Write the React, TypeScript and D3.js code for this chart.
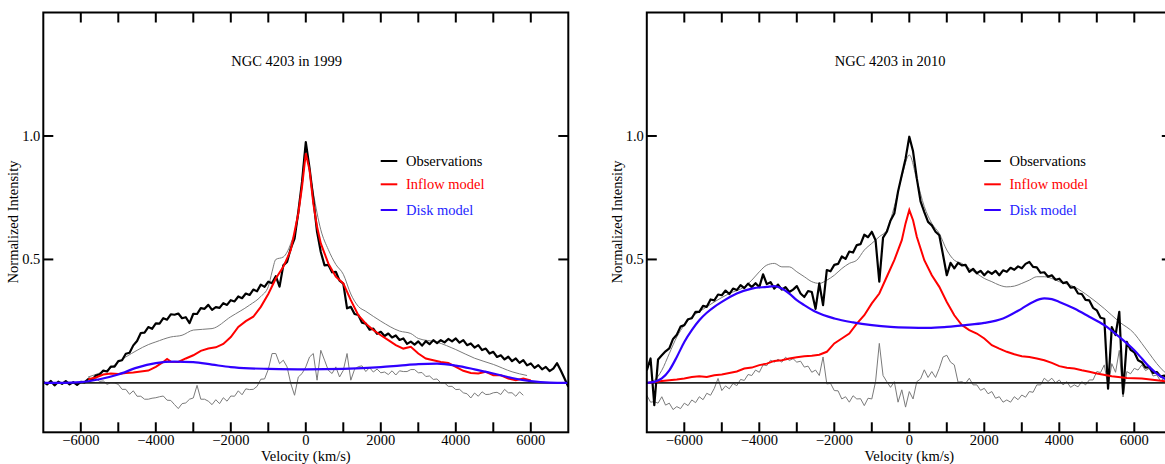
import React from 'react';
import * as d3 from 'd3';

// velocity grid step for the sampled (noisy) spectra, km/s
const STEP = 100;

const titles = ['NGC 4203 in 1999', 'NGC 4203 in 2010'];
const legendLabels = ['Observations', 'Inflow model', 'Disk model'];
const xTickValues = [-6000, -4000, -2000, 0, 2000, 4000, 6000];
const yTickValues = [0.5, 1.0];

// ---- 1999 ----
const obs1999Start = -7000;
const obs1999 = [
	0.004, -0.006, 0.008, -0.01, 0.005, -0.004, 0.007, -0.006, 0.003, -0.008,
	0.004, 0.002, 0.016, 0.012, 0.03, 0.034, 0.05, 0.046, 0.066, 0.066,
	0.088, 0.092, 0.118, 0.122, 0.152, 0.17, 0.202, 0.204, 0.226, 0.219,
	0.241, 0.24, 0.262, 0.256, 0.278, 0.276, 0.281, 0.262, 0.266, 0.242,
	0.28, 0.279, 0.303, 0.3, 0.316, 0.296, 0.307, 0.304, 0.323, 0.316,
	0.335, 0.33, 0.35, 0.343, 0.362, 0.356, 0.378, 0.371, 0.398, 0.389,
	0.41, 0.404, 0.432, 0.39, 0.476, 0.49, 0.545, 0.584, 0.692, 0.815,
	0.975, 0.87, 0.746, 0.612, 0.53, 0.476, 0.478, 0.448, 0.45, 0.414,
	0.402, 0.302, 0.308, 0.279, 0.275, 0.244, 0.24, 0.216, 0.22, 0.199,
	0.207, 0.19, 0.2, 0.184, 0.192, 0.174, 0.18, 0.158, 0.167, 0.155,
	0.168, 0.151, 0.169, 0.157, 0.173, 0.161, 0.173, 0.164, 0.178, 0.168,
	0.18, 0.163, 0.173, 0.153, 0.16, 0.143, 0.153, 0.133, 0.139, 0.119,
	0.126, 0.105, 0.112, 0.095, 0.106, 0.088, 0.099, 0.081, 0.092, 0.071,
	0.079, 0.061, 0.072, 0.055, 0.065, 0.048, 0.058, 0.08, 0.05, 0.018,
	-0.016
];

const resid1999Start = -5800;
const resid1999 = [
	0.024, 0.014, 0.018, 0.006, 0.008, -0.006, 0.001, 0.0, -0.006, -0.026,
	-0.026, -0.046, -0.032, -0.054, -0.054, -0.066, -0.066, -0.062, -0.06, -0.056,
	-0.053, -0.07, -0.071, -0.088, -0.104, -0.084, -0.081, -0.066, -0.061, -0.01,
	-0.066, -0.066, -0.074, -0.088, -0.068, -0.084, -0.06, -0.074, -0.053, -0.054,
	-0.032, -0.048, -0.024, -0.027, -0.026, -0.014, 0.015, 0.016, 0.055, 0.119,
	0.119, 0.078, 0.092, 0.065, -0.003, -0.05, 0.024, 0.038, 0.065, 0.105,
	0.119, 0.011, 0.132, 0.092, 0.051, 0.038, 0.065, 0.024, 0.051, 0.119,
	0.011, 0.055, 0.066, 0.069, 0.046, 0.062, 0.044, 0.056, 0.041, 0.044,
	0.034, 0.049, 0.032, 0.049, 0.046, 0.046, 0.054, 0.054, 0.041, 0.042,
	0.026, 0.028, 0.014, 0.016, 0.0, 0.0, -0.014, -0.014, -0.027, -0.026,
	-0.04, -0.044, -0.061, -0.041, -0.054, -0.036, -0.047, -0.046, -0.04, -0.038,
	-0.047, -0.026, -0.04, -0.04, -0.054, -0.036, -0.05
];

const inflow1999 = [
	[-5800, 0.015], [-5600, 0.022], [-5400, 0.034], [-5200, 0.038], [-5000, 0.036],
	[-4800, 0.04], [-4600, 0.042], [-4400, 0.046], [-4200, 0.05], [-4000, 0.065],
	[-3800, 0.085], [-3700, 0.097], [-3600, 0.086], [-3400, 0.085], [-3200, 0.099],
	[-3000, 0.112], [-2800, 0.13], [-2600, 0.139], [-2400, 0.144], [-2200, 0.158],
	[-2000, 0.186], [-1800, 0.227], [-1600, 0.25], [-1400, 0.268], [-1200, 0.308],
	[-1000, 0.36], [-800, 0.423], [-600, 0.47], [-400, 0.538], [-200, 0.686],
	[-100, 0.795], [0, 0.93], [100, 0.862], [200, 0.727], [300, 0.632],
	[400, 0.565], [600, 0.484], [800, 0.43], [1000, 0.403], [1200, 0.335],
	[1400, 0.274], [1600, 0.24], [1800, 0.214], [2000, 0.193], [2200, 0.173],
	[2400, 0.153], [2600, 0.139], [2800, 0.146], [3000, 0.119], [3200, 0.099],
	[3400, 0.092], [3600, 0.085], [3800, 0.081], [4000, 0.065], [4200, 0.049],
	[4400, 0.04], [4600, 0.038], [4800, 0.045], [5000, 0.031], [5200, 0.031],
	[5400, 0.018], [5600, 0.011], [5800, 0.018], [6000, 0.01]
];

const disk1999 = [
	[-7000, 0], [-6500, 0], [-6000, 0.003], [-5500, 0.015], [-5000, 0.034],
	[-4500, 0.062], [-4000, 0.08], [-3500, 0.086], [-3000, 0.084], [-2500, 0.074],
	[-2000, 0.064], [-1500, 0.059], [-1000, 0.057], [0, 0.055], [1000, 0.057],
	[2000, 0.064], [2500, 0.07], [3000, 0.076], [3500, 0.078], [4000, 0.07],
	[4500, 0.055], [5000, 0.038], [5500, 0.02], [6000, 0.007], [6500, 0.001], [7000, 0]
];

const model1999 = [
	[-5800, 0.024], [-5500, 0.04], [-5200, 0.06], [-5000, 0.085], [-4800, 0.105],
	[-4500, 0.132], [-4200, 0.155], [-4000, 0.166], [-3600, 0.186], [-3300, 0.193],
	[-3000, 0.214], [-2500, 0.22], [-2000, 0.268], [-1500, 0.315], [-1200, 0.35],
	[-1000, 0.39], [-900, 0.45], [-800, 0.5], [-600, 0.51], [-400, 0.565],
	[-200, 0.68], [-100, 0.82], [0, 0.957], [100, 0.86], [200, 0.77],
	[400, 0.62], [600, 0.54], [800, 0.48], [1000, 0.44], [1200, 0.36],
	[1400, 0.31], [1600, 0.29], [2000, 0.25], [2500, 0.21], [2800, 0.2],
	[3000, 0.18], [3500, 0.165], [4000, 0.135], [4500, 0.1], [5000, 0.075],
	[5500, 0.045], [5900, 0.03]
];

// ---- 2010 ----
const obs2010Start = -7000;
const obs2010 = [
	0.051, 0.099, -0.09, 0.095, 0.112, 0.128, 0.14, 0.178, 0.195, 0.228,
	0.234, 0.258, 0.262, 0.288, 0.288, 0.312, 0.308, 0.338, 0.334, 0.358,
	0.355, 0.374, 0.36, 0.382, 0.376, 0.396, 0.384, 0.402, 0.388, 0.404,
	0.388, 0.44, 0.4, 0.408, 0.382, 0.398, 0.378, 0.388, 0.368, 0.378,
	0.392, 0.362, 0.348, 0.372, 0.368, 0.3, 0.403, 0.315, 0.457, 0.452,
	0.478, 0.482, 0.512, 0.502, 0.532, 0.528, 0.558, 0.562, 0.6, 0.59,
	0.612, 0.578, 0.41, 0.588, 0.612, 0.658, 0.686, 0.775, 0.842, 0.908,
	0.997, 0.938, 0.828, 0.735, 0.692, 0.652, 0.638, 0.612, 0.598, 0.518,
	0.436, 0.486, 0.464, 0.486, 0.476, 0.478, 0.45, 0.462, 0.444, 0.454,
	0.436, 0.452, 0.442, 0.454, 0.436, 0.456, 0.45, 0.466, 0.458, 0.472,
	0.464, 0.482, 0.49, 0.47, 0.468, 0.446, 0.448, 0.43, 0.436, 0.418,
	0.422, 0.404, 0.408, 0.386, 0.388, 0.362, 0.36, 0.336, 0.334, 0.304,
	0.294, 0.264, 0.26, -0.023, 0.226, 0.194, 0.288, -0.043, 0.166, 0.134,
	0.124, 0.092, 0.084, 0.062, 0.064, 0.04, 0.044, 0.026, 0.03, 0.012,
	0.01
];

const resid2010Start = -7000;
const resid2010 = [
	-0.05, -0.078, -0.076, -0.082, -0.056, -0.09, -0.082, -0.108, -0.096, -0.104,
	-0.082, -0.092, -0.069, -0.08, -0.056, -0.068, -0.042, -0.05, -0.022, 0.018,
	-0.031, -0.012, -0.024, -0.002, -0.011, 0.014, 0.01, 0.034, 0.03, 0.052,
	0.043, 0.073, 0.07, 0.092, 0.084, 0.096, 0.084, 0.104, 0.091, 0.098,
	0.084, 0.088, 0.064, 0.068, 0.043, 0.052, 0.03, 0.105, -0.004, -0.002,
	-0.031, -0.032, -0.065, -0.056, -0.078, -0.052, -0.065, -0.064, -0.092, -0.062,
	-0.065, 0.005, 0.16, 0.03, 0.005, -0.018, 0.005, -0.078, -0.028, -0.098,
	-0.035, -0.065, 0.005, 0.016, 0.053, 0.022, 0.046, 0.022, 0.059, 0.105,
	0.112, 0.084, 0.073, 0.003, 0.005, -0.002, 0.019, -0.008, -0.008, -0.03,
	-0.022, -0.044, -0.035, -0.062, -0.056, -0.078, -0.069, -0.078, -0.056, -0.068,
	-0.049, -0.058, -0.035, -0.038, -0.008, -0.008, 0.019, 0.006, 0.019, 0.0,
	0.012, -0.008, 0.005, -0.018, -0.008, -0.016, 0.005, -0.008, 0.012, 0.012,
	0.046, 0.042, 0.073, -0.016, 0.078, 0.043, 0.132, -0.057, 0.046, 0.037,
	0.059, 0.052, 0.073, 0.05, 0.059, 0.028, 0.032, 0.008, 0.019, -0.004,
	-0.003
];

const inflow2010 = [
	[-7000, 0.0], [-6600, 0.008], [-6200, 0.014], [-6000, 0.018], [-5800, 0.024],
	[-5600, 0.027], [-5400, 0.024], [-5200, 0.031], [-5000, 0.034], [-4800, 0.04],
	[-4600, 0.046], [-4400, 0.058], [-4200, 0.062], [-4000, 0.072], [-3800, 0.078],
	[-3600, 0.089], [-3400, 0.092], [-3200, 0.099], [-3000, 0.104], [-2800, 0.108],
	[-2600, 0.11], [-2400, 0.114], [-2200, 0.126], [-2000, 0.16], [-1800, 0.18],
	[-1600, 0.2], [-1400, 0.24], [-1200, 0.274], [-1000, 0.322], [-800, 0.362],
	[-600, 0.43], [-400, 0.497], [-200, 0.578], [-100, 0.646], [0, 0.70],
	[100, 0.659], [200, 0.592], [400, 0.497], [600, 0.436], [800, 0.389],
	[1000, 0.328], [1200, 0.274], [1400, 0.234], [1600, 0.214], [1800, 0.2],
	[2000, 0.18], [2200, 0.153], [2400, 0.139], [2600, 0.126], [2800, 0.116],
	[3000, 0.108], [3200, 0.105], [3400, 0.099], [3600, 0.092], [3800, 0.081],
	[4000, 0.068], [4200, 0.061], [4400, 0.058], [4600, 0.051], [4800, 0.045],
	[5000, 0.038], [5400, 0.027], [5800, 0.02], [6200, 0.018], [6600, 0.011], [7000, 0.004]
];

const disk2010 = [
	[-7000, 0], [-6800, 0.004], [-6600, 0.018], [-6400, 0.051], [-6200, 0.105],
	[-6000, 0.166], [-5800, 0.214], [-5600, 0.254], [-5400, 0.284], [-5200, 0.308],
	[-5000, 0.328], [-4600, 0.362], [-4200, 0.382], [-3800, 0.389], [-3600, 0.392],
	[-3400, 0.382], [-3200, 0.362], [-3000, 0.335], [-2800, 0.315], [-2500, 0.288],
	[-2000, 0.261], [-1500, 0.245], [-1000, 0.234], [-500, 0.227], [0, 0.224],
	[500, 0.223], [1000, 0.227], [1500, 0.234], [2000, 0.243], [2500, 0.261],
	[3000, 0.301], [3300, 0.328], [3600, 0.342], [3800, 0.339], [4000, 0.328],
	[4400, 0.301], [4800, 0.268], [5200, 0.234], [5600, 0.186], [6000, 0.132],
	[6200, 0.099], [6400, 0.065], [6600, 0.038], [6800, 0.018], [7000, 0.004]
];

const model2010 = [
	[-7000, 0], [-6800, 0.011], [-6600, 0.051], [-6400, 0.119], [-6200, 0.186],
	[-6000, 0.234], [-5800, 0.268], [-5600, 0.288], [-5200, 0.328], [-4800, 0.362],
	[-4400, 0.389], [-4200, 0.416], [-4000, 0.45], [-3800, 0.477], [-3600, 0.484],
	[-3400, 0.47], [-3200, 0.47], [-3000, 0.45], [-2800, 0.43], [-2600, 0.41],
	[-2400, 0.403], [-2200, 0.416], [-2000, 0.436], [-1800, 0.463], [-1600, 0.484],
	[-1400, 0.497], [-1200, 0.538], [-1000, 0.565], [-800, 0.592], [-600, 0.619],
	[-400, 0.714], [-200, 0.835], [0, 0.923], [200, 0.822], [400, 0.714],
	[600, 0.646], [800, 0.605], [1000, 0.538], [1200, 0.497], [1400, 0.484],
	[1600, 0.463], [1800, 0.443], [2000, 0.423], [2200, 0.41], [2400, 0.396],
	[2600, 0.389], [2800, 0.392], [3000, 0.403], [3200, 0.416], [3400, 0.43],
	[3600, 0.43], [3800, 0.423], [4000, 0.41], [4400, 0.389], [4800, 0.349],
	[5200, 0.301], [5600, 0.247], [6000, 0.2], [6200, 0.16], [6400, 0.119],
	[6600, 0.078], [6800, 0.045], [7000, 0.018]
];

const sampled = (values: number[], start: number) =>
	values.map((y, i) => [start + i * STEP, y] as [number, number]);

const FONT = 'Liberation Serif, Times New Roman, serif';
const FS = 14.5;
const RED = '#ff0000';
const BLUE_LINE = '#3000ff';
const BLUE_TEXT = '#2424ff';

const W = 1165;
const H = 464;
const plotTop = 12.5;
const plotBottom = 432.3;
const plotWidth = 525;

function Panel(props: any) {
	const { id, left, title, obs, resid, inflow, disk, model } = props;
	const x = d3.scaleLinear().domain([-7000, 7000]).range([left, left + plotWidth]);
	const y = d3.scaleLinear().domain([-0.2, 1.5]).range([plotBottom, plotTop]);

	const lineFn = d3.line<[number, number]>()
		.x((d) => x(d[0]))
		.y((d) => y(d[1]));
	const smoothFn = d3.line<[number, number]>()
		.x((d) => x(d[0]))
		.y((d) => y(d[1]))
		.curve(d3.curveMonotoneX);

	const minor = d3.range(-6000, 6001, 1000);
	const legendX = left + 337.4;
	const legendY = [161, 184.3, 210];
	const legendColors = ['#000', RED, BLUE_LINE];
	const legendText = ['#000', RED, BLUE_TEXT];
	const txt = { fontFamily: FONT, fontSize: FS };

	return (
		<g>
			<defs>
				<clipPath id={id}>
					<rect x={left} y={plotTop} width={plotWidth} height={plotBottom - plotTop}/>
				</clipPath>
			</defs>
			<g clipPath={`url(#${id})`} fill="none">
				<path d={lineFn(resid)} stroke="#7a7a7a" strokeWidth={1}/>
				<line x1={left} x2={left + plotWidth} y1={y(0)} y2={y(0)} stroke="#222" strokeWidth={1.6}/>
				<path d={smoothFn(model)} stroke="#7a7a7a" strokeWidth={1}/>
				<path d={lineFn(obs)} stroke="#000" strokeWidth={2.2} strokeLinejoin="round"/>
				<path d={lineFn(inflow)} stroke={RED} strokeWidth={2}/>
				<path d={smoothFn(disk)} stroke={BLUE_LINE} strokeWidth={2.2}/>
			</g>

			{/* frame */}
			<rect x={left} y={plotTop} width={plotWidth} height={plotBottom - plotTop}
			      fill="none" stroke="#000" strokeWidth={2}/>

			{minor.map((v) => (
				<g key={'xt' + v}>
					<line x1={x(v)} x2={x(v)} y1={plotBottom} y2={plotBottom - 10} stroke="#000" strokeWidth={2}/>
					<line x1={x(v)} x2={x(v)} y1={plotTop} y2={plotTop + 10} stroke="#000" strokeWidth={2}/>
				</g>
			))}
			{yTickValues.map((v) => (
				<g key={'yt' + v}>
					<line x1={left} x2={left + 10} y1={y(v)} y2={y(v)} stroke="#000" strokeWidth={2}/>
					<line x1={left + plotWidth} x2={left + plotWidth - 10} y1={y(v)} y2={y(v)} stroke="#000" strokeWidth={2}/>
					<text x={left - 3} y={y(v) + 5} textAnchor="end" style={txt}>
						{d3.format('.1f')(v)}
					</text>
				</g>
			))}
			{xTickValues.map((v) => (
				<text key={'xl' + v} x={x(v)} y={444.5} textAnchor="middle" style={txt}>
					{v < 0 ? '\u2212' + Math.abs(v) : String(v)}
				</text>
			))}

			<text x={x(0)} y={461} textAnchor="middle" style={txt}>Velocity (km/s)</text>
			<text transform={`translate(${left - 25},${222}) rotate(-90)`} textAnchor="middle"
			      style={txt}>Normalized Intensity</text>

			<text x={left + 243.4} y={66} textAnchor="middle" style={txt}>{title}</text>

			{legendLabels.map((lab, i) => (
				<g key={lab}>
					<line x1={legendX} x2={legendX + 16.6} y1={legendY[i]} y2={legendY[i]}
					      stroke={legendColors[i]} strokeWidth={2}/>
					<text x={legendX + 25.3} y={legendY[i] + 4.8} style={txt}
					      fill={legendText[i]}>{lab}</text>
				</g>
			))}
		</g>
	);
}

export default function App() {
	return (
		<svg width={W} height={H} style={{ position: 'absolute', left: 0, top: 0, background: '#fff' }}>
			<rect width={W} height={H} fill="#fff"/>
			<Panel id="clip1999" left={43.3} title={titles[0]}
			       obs={sampled(obs1999, obs1999Start)} resid={sampled(resid1999, resid1999Start)}
			       inflow={inflow1999} disk={disk1999} model={model1999}/>
			<Panel id="clip2010" left={646.8} title={titles[1]}
			       obs={sampled(obs2010, obs2010Start)} resid={sampled(resid2010, resid2010Start)}
			       inflow={inflow2010} disk={disk2010} model={model2010}/>
		</svg>
	);
}
